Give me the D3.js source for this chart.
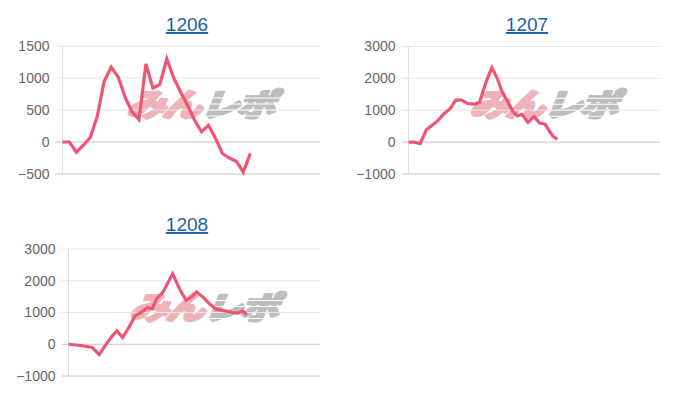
<!DOCTYPE html>
<html>
<head>
<meta charset="utf-8">
<script src="https://cdn.jsdelivr.net/npm/d3@7"></script>
<style>
  body { margin: 0; background: #fff; }
  svg { display: block; font-family: "Liberation Sans", Arial, sans-serif; }
</style>
</head>
<body>
<div id="vis"></div>
<script>
// Data: game count (x) and coin difference (y) for each machine
const GAMES_1206 = [0, 270, 540, 810, 1080, 1350, 1620, 1890, 2160, 2430, 2700, 2970, 3240, 3510,
                    3780, 4050, 4320, 4590, 4860, 5130, 5400, 5670, 5940, 6210, 6480, 6750, 7020, 7290];
const DIFF_1206 = [0, 0, -160, -50, 70, 400, 950, 1170, 1020, 700, 470, 350, 1220, 840,
                   900, 1300, 1000, 780, 570, 340, 160, 260, 60, -180, -250, -300, -470, -180];

const GAMES_1207 = [0, 226, 465, 703, 930, 1152, 1418, 1657, 1875, 2114, 2352, 2610, 2829, 3067,
                    3313, 3524, 3723, 3941, 4148, 4331, 4517, 4748, 4994, 5213, 5431, 5610, 5749, 5920];
const DIFF_1207 = [0, 0, -50, 380, 520, 660, 900, 1050, 1320, 1320, 1210, 1190, 1250, 1850,
                   2340, 2010, 1580, 1270, 960, 820, 870, 620, 800, 600, 560, 340, 180, 90];

const GAMES_1208 = [0, 465, 942, 1220, 1478, 1736, 1923, 2153, 2392, 2650, 2888, 3127, 3337, 3496,
                    3762, 4140, 4418, 4676, 4875, 5093, 5371, 5629, 5868, 6226, 6544, 6742, 6921, 7088];
const DIFF_1208 = [0, -40, -100, -320, -20, 260, 420, 210, 520, 900, 1000, 1150, 1120, 1420,
                   1650, 2220, 1740, 1380, 1470, 1650, 1470, 1260, 1100, 1050, 1000, 980, 1050, 930];

const TITLES = ["1206", "1207", "1208"];
const TICKS_1206 = [-500, 0, 500, 1000, 1500];
const TICKS_1207 = [-1000, 0, 1000, 2000, 3000];
const TICKS_1208 = [-1000, 0, 1000, 2000, 3000];
const GAME_MAX = 10000;

// Frame
const FRAME_WIDTH = 700;
const FRAME_HEIGHT = 400;
const LINE_COLOR = "#ee5573";
const TITLE_COLOR = "#1b5fa6";

// Panel boxes (plot areas) and title positions
const PANELS = [
  {title: TITLES[0], games: GAMES_1206, diff: DIFF_1206, ticks: TICKS_1206,
   left: 62.5, right: 320, top: 46, bottom: 174, titleX: 187, titleY: 31},
  {title: TITLES[1], games: GAMES_1207, diff: DIFF_1207, ticks: TICKS_1207,
   left: 408.5, right: 660, top: 46.5, bottom: 174, titleX: 527, titleY: 31},
  {title: TITLES[2], games: GAMES_1208, diff: DIFF_1208, ticks: TICKS_1208,
   left: 68.5, right: 320, top: 249, bottom: 376, titleX: 187, titleY: 231}
];

const FRAME = d3.select("#vis")
  .append("svg")
    .attr("width", FRAME_WIDTH)
    .attr("height", FRAME_HEIGHT);

PANELS.forEach((p) => {
  const W = p.right - p.left;
  const H = p.bottom - p.top;

  const X_SCALE = d3.scaleLinear().domain([0, GAME_MAX]).range([0, W]);
  const Y_SCALE = d3.scaleLinear()
    .domain([d3.min(p.ticks), d3.max(p.ticks)])
    .range([H, 0]);

  const g = FRAME.append("g")
    .attr("transform", "translate(" + p.left + "," + p.top + ")");

  // Title (underlined link look)
  FRAME.append("text")
    .attr("x", p.titleX)
    .attr("y", p.titleY)
    .attr("text-anchor", "middle")
    .attr("fill", TITLE_COLOR)
    .attr("text-decoration", "underline")
    .style("font-size", "19px")
    .text(p.title);

  // Watermark (heavy italic logo, faked bold with a stroke)
  const wm = g.append("g")
    .attr("transform", "translate(" + (W / 2 + 8) + "," + (H / 2 + 6) + ")");
  const wmText = wm.append("text")
    .attr("text-anchor", "middle")
    .attr("transform", "skewX(-22) scale(1.25,1)")
    .style("font-family", "'Noto Sans CJK JP', sans-serif")
    .style("font-weight", "700")
    .style("font-size", "31px")
    .style("letter-spacing", "-2px");
  wmText.append("tspan").attr("fill", "#eeb2b9").attr("stroke", "#eeb2b9")
    .attr("stroke-width", 3.2).attr("stroke-linejoin", "round").text("みん");
  wmText.append("tspan").attr("fill", "#bdbdbd").attr("stroke", "#bdbdbd")
    .attr("stroke-width", 3.2).attr("stroke-linejoin", "round").attr("dx", 1).text("レポ");
  // speed stripes cutting the grey letters
  [-18, -12, -6, 0].forEach((dy) => {
    wm.append("line")
      .attr("x1", 4).attr("x2", 84)
      .attr("y1", dy).attr("y2", dy)
      .attr("stroke", "#fff")
      .attr("stroke-width", 1.2);
  });

  // Gridlines
  g.append("g")
    .selectAll("line")
    .data(p.ticks)
    .enter()
    .append("line")
      .attr("x1", -7)
      .attr("x2", W)
      .attr("y1", (d) => Y_SCALE(d))
      .attr("y2", (d) => Y_SCALE(d))
      .attr("stroke", (d) => (d === 0 || d === d3.min(p.ticks)) ? "#c4c4c4" : "#e6e6e6")
      .attr("stroke-width", 1);

  // Y axis line
  g.append("line")
    .attr("x1", 0).attr("x2", 0)
    .attr("y1", 0).attr("y2", H)
    .attr("stroke", "#e0e0e0");

  // Tick labels
  const yAxis = g.append("g")
    .call(d3.axisLeft(Y_SCALE).tickValues(p.ticks).tickFormat(d3.format("d"))
      .tickSize(0).tickPadding(13));
  yAxis.select(".domain").remove();
  yAxis.selectAll("text")
    .attr("fill", "#666")
    .style("font-size", "14px")
    .style("font-family", "'Liberation Sans', Arial, sans-serif");

  // Line
  const line = d3.line()
    .x((d, i) => X_SCALE(p.games[i]))
    .y((d) => Y_SCALE(d));

  g.append("path")
    .datum(p.diff)
    .attr("d", line)
    .attr("fill", "none")
    .attr("stroke", LINE_COLOR)
    .attr("stroke-width", 3.2)
    .attr("stroke-linejoin", "miter")
    .attr("stroke-linecap", "butt");
});
</script>
</body>
</html>
